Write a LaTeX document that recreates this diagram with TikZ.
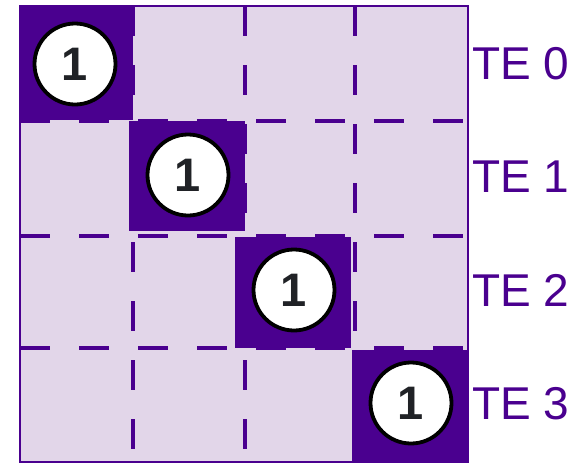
\documentclass[tikz,border=0pt]{standalone}
\usepackage{fontspec}
\setmainfont{Liberation Sans}
\definecolor{dpurple}{RGB}{74,0,143}
\definecolor{lpurple}{RGB}{226,214,233}
\definecolor{numgray}{RGB}{32,34,38}
\tikzset{
  gridline/.style={draw=dpurple, line width=3.4pt, dash pattern=on 30pt off 29pt, dash phase=0pt},
  darkcell/.style={fill=dpurple},
  onecircle/.style={circle, draw=black, fill=white, line width=3.8pt, minimum size=81pt, inner sep=0pt,
    text=numgray, font=\fontsize{47}{47}\selectfont\bfseries},
  telabel/.style={anchor=west, text=dpurple, font=\fontsize{46}{46}\selectfont, inner sep=0pt}
}
\begin{document}
\begin{tikzpicture}[x=1pt,y=-1pt]
\useasboundingbox (0,0) rectangle (579,464);
\fill[lpurple] (20,6) rectangle (468,462);
% dashed grid lines
\foreach \yy in {121,236,348} {\draw[gridline] (20,\yy) -- (468,\yy);}
\foreach \xx in {133,245,355} {\draw[gridline] (\xx,6) -- (\xx,462);}
% dark diagonal cells
\fill[darkcell] (20,6) rectangle (133,120);
\fill[darkcell] (129,121) rectangle (245,231);
\fill[darkcell] (235,237) rectangle (351,348);
\fill[darkcell] (352,350) rectangle (468,462);
% border
\draw[dpurple, line width=2.6pt] (20,6) rectangle (468,462);
% circles
\node[onecircle] (c0) at (75,64) {1};
\node[onecircle] (c1) at (188,175) {1};
\node[onecircle] (c2) at (294,290) {1};
\node[onecircle] (c3) at (411,403) {1};
% labels
\node[telabel] (te0) at (472,64) {TE 0};
\node[telabel] (te1) at (472,177) {TE 1};
\node[telabel] (te2) at (472,290) {TE 2};
\node[telabel] (te3) at (472,404) {TE 3};
\end{tikzpicture}
\end{document}
